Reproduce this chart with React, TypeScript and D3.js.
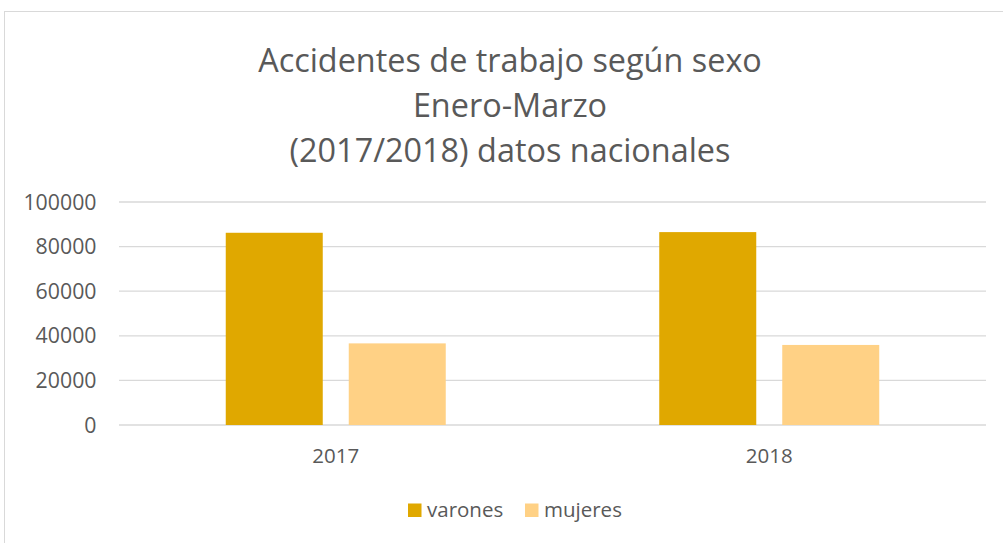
import React from "react";
import * as d3 from "d3";

const categories = ["2017", "2018"];
const seriesNames = ["varones", "mujeres"];
const varones = [86200, 86500];
const mujeres = [36600, 35900];
const yTicks = [0, 20000, 40000, 60000, 80000, 100000];
const titleLines = ["Accidentes de trabajo según sexo", "Enero-Marzo", "(2017/2018) datos nacionales"];
const colors = ["#E0A800", "#FFD185"];

const W = 1003;
const H = 543;
const FONT = "'Open Sans', sans-serif";
const TXT = "#595959";

export default function App() {
  const plotLeft = 119;
  const plotRight = 986;
  const plotTop = 202;
  const plotBottom = 425;

  const y = d3.scaleLinear().domain([0, 100000]).range([plotBottom, plotTop]);
  const x0 = d3
    .scaleBand<string>()
    .domain(categories)
    .range([plotLeft, plotRight])
    .paddingInner(0.4925)
    .paddingOuter(0.24625);
  const x1 = d3
    .scaleBand<string>()
    .domain(seriesNames)
    .range([0, x0.bandwidth()])
    .paddingInner(0.2114)
    .paddingOuter(0);

  const values = [varones, mujeres];

  return (
    <svg
      width={W}
      height={H}
      style={{ position: "absolute", left: 0, top: 0, background: "#fff" }}
    >
      <rect x={4.5} y={11.5} width={1020} height={560} fill="#fff" stroke="#d9d9d9" strokeWidth={1} />
      {titleLines.map((t, i) => (
        <text
          key={i}
          x={510}
          y={72 + i * 45}
          textAnchor="middle"
          fontFamily={FONT}
          fontSize={32.4}
          fill={TXT}
        >
          {t}
        </text>
      ))}
      {yTicks.map((t) => (
        <g key={t}>
          <line x1={plotLeft} x2={plotRight} y1={y(t)} y2={y(t)} stroke="#d9d9d9" strokeWidth={1.3} />
          <text
            x={96.5}
            y={y(t)}
            dy="0.36em"
            textAnchor="end"
            fontFamily={FONT}
            fontSize={21.3}
            fill={TXT}
          >
            {t}
          </text>
        </g>
      ))}
      {categories.map((c, ci) => (
        <g key={c}>
          {seriesNames.map((s, si) => {
            const v = values[si][ci];
            return (
              <rect
                key={s}
                x={(x0(c) as number) + (x1(s) as number)}
                y={y(v)}
                width={x1.bandwidth()}
                height={plotBottom - y(v)}
                fill={colors[si]}
              />
            );
          })}
          <text
            x={(x0(c) as number) + x0.bandwidth() / 2}
            y={463}
            textAnchor="middle"
            fontFamily={FONT}
            fontSize={20.5}
            fill={TXT}
          >
            {c}
          </text>
        </g>
      ))}
      {seriesNames.map((s, i) => {
        const lx = [408, 525][i];
        return (
          <g key={s}>
            <rect x={lx} y={503.5} width={13.5} height={13.5} fill={colors[i]} />
            <text x={lx + 19} y={516.5} fontFamily={FONT} fontSize={20.5} fill={TXT}>
              {s}
            </text>
          </g>
        );
      })}
    </svg>
  );
}
